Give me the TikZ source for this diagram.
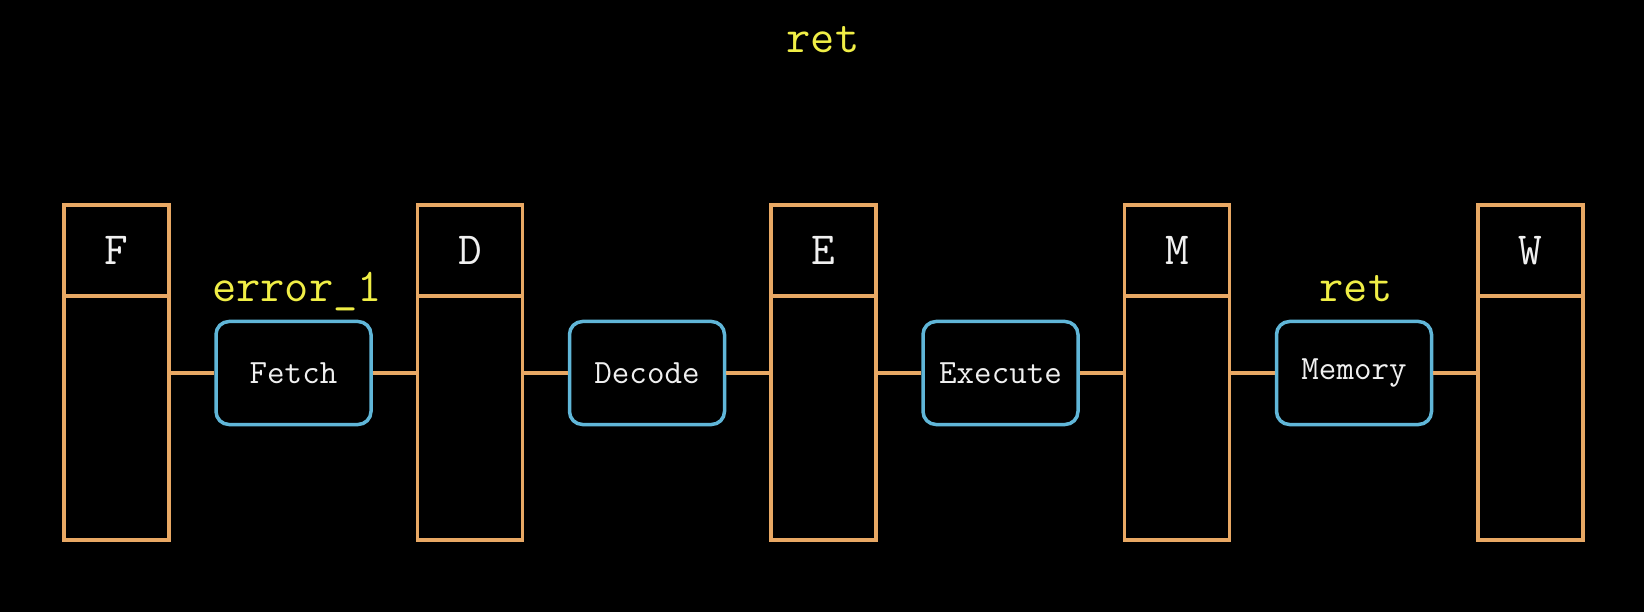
\documentclass[tikz,border=0pt]{standalone}
\usepackage{fontspec}
\definecolor{regcol}{RGB}{232,168,100}
\definecolor{stagecol}{RGB}{96,182,216}
\definecolor{labcol}{RGB}{240,238,70}
\definecolor{txtcol}{RGB}{240,240,240}
\begin{document}
\begin{tikzpicture}[x=1pt,y=-1pt,
  reghead/.style={draw=regcol,line width=3.5pt,minimum width=105pt,minimum height=91pt,inner sep=0pt,
    text=txtcol,font=\fontsize{46}{52}\selectfont\ttfamily},
  regbody/.style={draw=regcol,line width=3.5pt,minimum width=105pt,minimum height=244pt,inner sep=0pt},
  stagebox/.style={draw=stagecol,line width=3.5pt,rounded corners=13pt,minimum width=155pt,minimum height=103pt,
    inner sep=0pt,text=txtcol,font=\fontsize{34}{40}\selectfont\ttfamily},
  wire/.style={draw=regcol,line width=3.5pt},
  lab/.style={text=labcol,font=\fontsize{47}{54}\selectfont\ttfamily,inner sep=0pt}]
\fill[black] (0,0) rectangle (1644,612);
\useasboundingbox (0,0) rectangle (1644,612);
\foreach \n/\t/\x in {F/F/116.5, D/D/470, E/E/823.5, M/M/1177, W/W/1530.5}{
  \node[reghead] (\n h) at (\x,250.5) {\t};
  \node[regbody] (\n b) at (\x,418) {};
}
\node[stagebox] (fetch) at (293.5,373) {Fetch};
\node[stagebox] (decode) at (647,373) {Decode};
\node[stagebox] (execute) at (1000.5,373) {Execute};
\node[stagebox] (memory) at (1354,373) {Memory};
\draw[wire] (Fb.east |- fetch.west) -- (fetch.west);
\draw[wire] (fetch.east) -- (Db.west |- fetch.east);
\draw[wire] (Db.east |- decode.west) -- (decode.west);
\draw[wire] (decode.east) -- (Eb.west |- decode.east);
\draw[wire] (Eb.east |- execute.west) -- (execute.west);
\draw[wire] (execute.east) -- (Mb.west |- execute.east);
\draw[wire] (Mb.east |- memory.west) -- (memory.west);
\draw[wire] (memory.east) -- (Wb.west |- memory.east);
\node[lab] (toplab) at (823,40) {ret};
\node[lab] (errlab) at (297,292) {error\_1};
\node[lab] (memlab) at (1356,289) {ret};
\end{tikzpicture}
\end{document}
